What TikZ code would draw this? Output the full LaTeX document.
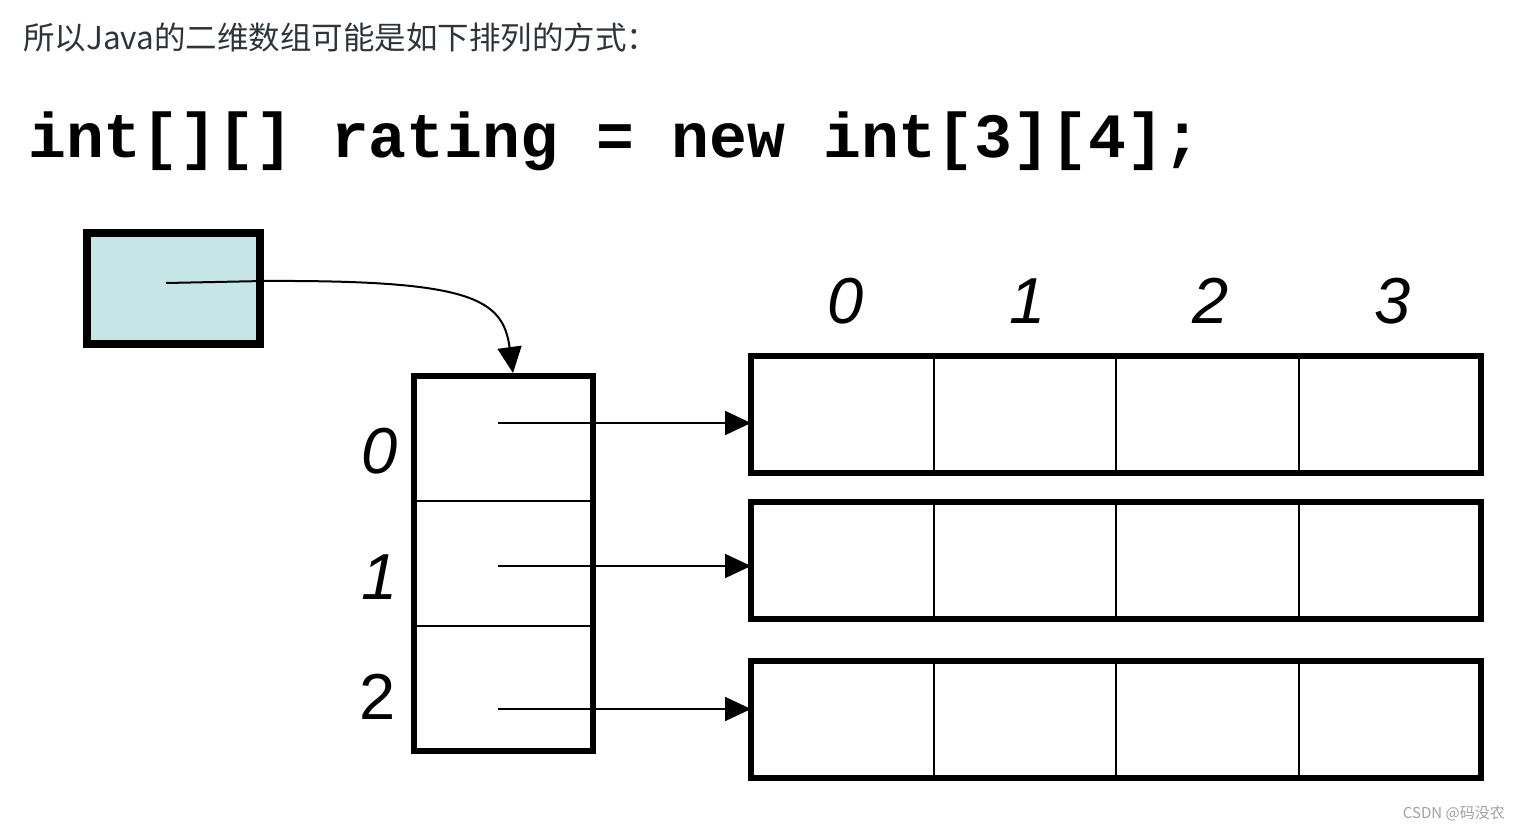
\documentclass[tikz,border=0pt]{standalone}
\usepackage{fontspec}
\setmainfont{Liberation Sans}
\newfontfamily\cjk{Noto Sans CJK SC}
\newfontfamily\codefont{Liberation Mono}
\usetikzlibrary{arrows.meta,calc}
\definecolor{boxblue}{HTML}{C5E5E7}
\definecolor{titlegray}{HTML}{2F343B}
\definecolor{markgray}{HTML}{A0A0A0}
\begin{document}
\begin{tikzpicture}[x=1pt,y=-1pt,
  cell/.style={draw, line width=2pt, minimum width=182.5pt, minimum height=117pt, inner sep=0pt, outer sep=0pt},
  colcell/.style={draw, line width=2pt, minimum width=179pt, minimum height=125pt, inner sep=0pt, outer sep=0pt},
  thickframe/.style={line width=6.5pt},
  idx/.style={inner sep=0pt, font=\fontsize{65}{78}\selectfont},
  conn/.style={line width=2pt, -{Triangle[length=26pt,width=24pt]}}]
\useasboundingbox (0,0) rectangle (1521,829);

% title and code line
\node[anchor=base west, inner sep=0pt, text=titlegray] (title) at (23,50)
  {\cjk\fontsize{31.5}{36}\selectfont 所以Java的二维数组可能是如下排列的方式：};
\node[anchor=base west, inner sep=0pt] (code) at (28,158)
  {\codefont\bfseries\fontsize{63.1}{70}\selectfont int[][] rating = new int[3][4];};

% reference variable box
\node[draw, line width=8pt, fill=boxblue, minimum width=173pt, minimum height=111pt,
      inner sep=0pt, outer sep=0pt] (ref) at (173.5,288.5) {};

% column of row references
\foreach \i/\y in {0/376,1/501,2/626}
  \node[colcell, anchor=north west] (c\i) at (414,\y) {};
\draw[thickframe] (c0.north west) rectangle (c2.south east);

% rows of ints
\foreach \r/\y in {0/356,1/502,2/661}{
  \foreach \c in {0,...,3}
    \node[cell, anchor=north west] (r\r-\c) at ({751+182.5*\c},\y) {};
  \draw[thickframe] (r\r-0.north west) rectangle (r\r-3.south east);
}

% column headers
\foreach \c in {0,...,3}
  \node[idx] (h\c) at ($(r0-\c.north)+(3,-55)$) {\itshape \c};

% row indices
\node[idx] (i0) at (380,451) {\itshape 0};
\node[idx] (i1) at (380,577) {\itshape 1};
\node[idx] (i2) at (378,697) {2};

% connectors
\coordinate (s) at (166,283);
\coordinate (e) at (513,373);
\draw[conn] (s) -- (264,281) .. controls (470,280) and (503,298) .. (e);

\coordinate (p0) at (498,423);
\coordinate (p1) at (498,566);
\coordinate (p2) at (498,709);
\foreach \i in {0,1,2}
  \draw[conn] (p\i) -- (p\i -| r\i-0.west);

% watermark
\node[anchor=base east, inner sep=0pt, text=markgray] (wm) at (1505,818)
  {\cjk\fontsize{15}{17}\selectfont CSDN @码没农};
\end{tikzpicture}
\end{document}
